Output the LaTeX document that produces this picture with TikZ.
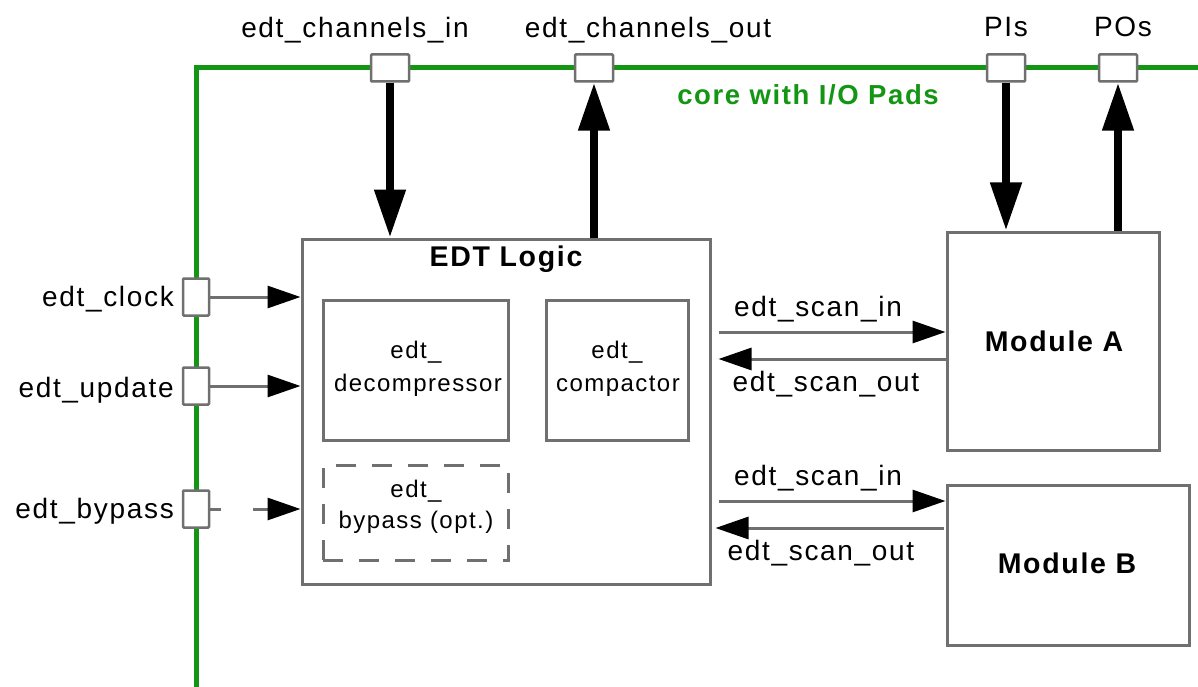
\documentclass[tikz,border=0pt]{standalone}
\usepackage{fontspec}
\setmainfont{Liberation Sans}[LetterSpace=6]
\usetikzlibrary{arrows.meta,calc}
\definecolor{padgreen}{RGB}{20,150,20}
\definecolor{boxgray}{RGB}{112,112,112}
\tikzset{
  box/.style={draw=boxgray, line width=3pt, fill=white, inner sep=0pt},
  pad/.style={draw=boxgray, line width=2.5pt, fill=white, inner sep=0pt, rounded corners=1pt},
  lbl/.style={font=\fontsize{28}{32}\selectfont, inner sep=0pt},
  sublbl/.style={font=\fontsize{24}{28}\selectfont, inner sep=0pt, anchor=base},
  boldlbl/.style={font=\fontsize{28.5}{32}\selectfont\bfseries, inner sep=0pt, anchor=base},
  bus/.style={line width=8pt, -{Triangle[length=48pt,width=30pt]}},
  sig/.style={draw=boxgray, line width=3pt, -{Triangle[length=33pt,width=22pt,color=black,fill=black]}},
}
\begin{document}
\begin{tikzpicture}[x=1pt, y=-1pt]
\path[use as bounding box, fill=white] (0,0) rectangle (1198,687);

% core boundary with I/O pads
\draw[padgreen, line width=5pt] (196,687) -- (196,68) -- (1198,68);
\node[font=\fontsize{27.5}{30}\selectfont\bfseries, text=padgreen, inner sep=0pt, anchor=base] (core) at (808,105) {core with I/O Pads};

% pads on the top edge
\node[pad, minimum width=38pt, minimum height=27pt] (pci) at (390,68) {};
\node[pad, minimum width=38pt, minimum height=27pt] (pco) at (594,68) {};
\node[pad, minimum width=38pt, minimum height=27pt] (ppi) at (1006,68) {};
\node[pad, minimum width=38pt, minimum height=27pt] (ppo) at (1118,68) {};
\node[lbl, anchor=base] (tci) at (355,38) {edt\_channels\_in};
\node[lbl, anchor=base] (tco) at (648,38) {edt\_channels\_out};
\node[lbl, anchor=base] (tpi) at (1006,37) {PIs};
\node[lbl, anchor=base] (tpo) at (1123,37) {POs};

% pads on the left edge
\node[pad, minimum width=26pt, minimum height=37pt] (pclk) at (196,297) {};
\node[pad, minimum width=26pt, minimum height=37pt] (pupd) at (196,386) {};
\node[pad, minimum width=26pt, minimum height=37pt] (pbyp) at (196,509) {};
\node[lbl, anchor=base east] (tclk) at (174,306) {edt\_clock};
\node[lbl, anchor=base east] (tupd) at (174,397) {edt\_update};
\node[lbl, anchor=base east] (tbyp) at (174,518) {edt\_bypass};

% EDT logic block
\node[box, minimum width=408pt, minimum height=345pt] (edt) at (506,411.5) {};
\node[boldlbl] (tedt) at (506,266) {EDT Logic};
\node[box, minimum width=185pt, minimum height=140pt] (dec) at (415.5,370) {};
\node[box, minimum width=142pt, minimum height=140pt] (cmp) at (617,370) {};
\node[box, dash pattern=on 20pt off 16pt, minimum width=185pt, minimum height=95pt] (byp) at (415.5,512.5) {};
\node[sublbl] (tdec1) at (416,358) {edt\_};
\node[sublbl] (tdec2) at (418,391) {decompressor};
\node[sublbl] (tcmp1) at (617,358) {edt\_};
\node[sublbl] (tcmp2) at (618,391) {compactor};
\node[sublbl] (tbyp1) at (416,497) {edt\_};
\node[sublbl] (tbyp2) at (416,528) {bypass (opt.)};

% modules
\node[box, minimum width=212pt, minimum height=218pt] (ma) at (1053,341) {};
\node[boldlbl] (tma) at (1054,351) {Module A};
\node[box, minimum width=242pt, minimum height=160pt] (mb) at (1068,565) {};
\node[boldlbl] (tmb) at (1067,573) {Module B};

% channel and primary I/O buses
\draw[bus] (pci.south) -- (pci.south |- edt.north);
\draw[bus] (pco.south |- edt.north) -- (pco.south);
\draw[bus] (ppi.south) -- (ppi.south |- ma.north);
\draw[bus] (ppo.south |- ma.north) -- (ppo.south);

% control inputs
\draw[sig] (pclk.east) -- (pclk.east -| edt.west);
\draw[sig] (pupd.east) -- (pupd.east -| edt.west);
\draw[sig, dash pattern=on 11pt off 32pt on 80pt off 1pt] (pbyp.east) -- (pbyp.east -| edt.west);

% scan chains
\draw[sig] ($(edt.east |- 0,332)+(7,0)$) -- (ma.west |- 0,332);
\draw[sig] (ma.west |- 0,359) -- ($(edt.east |- 0,359)+(7,0)$);
\draw[sig] ($(edt.east |- 0,501)+(7,0)$) -- (mb.west |- 0,501);
\draw[sig] ($(mb.west |- 0,528)+(-2,0)$) -- ($(edt.east |- 0,528)+(4,0)$);
\node[lbl, anchor=base] (sia) at (818,316) {edt\_scan\_in};
\node[lbl, anchor=base] (soa) at (826,391) {edt\_scan\_out};
\node[lbl, anchor=base] (sib) at (818,485) {edt\_scan\_in};
\node[lbl, anchor=base] (sob) at (821,560) {edt\_scan\_out};
\end{tikzpicture}
\end{document}
